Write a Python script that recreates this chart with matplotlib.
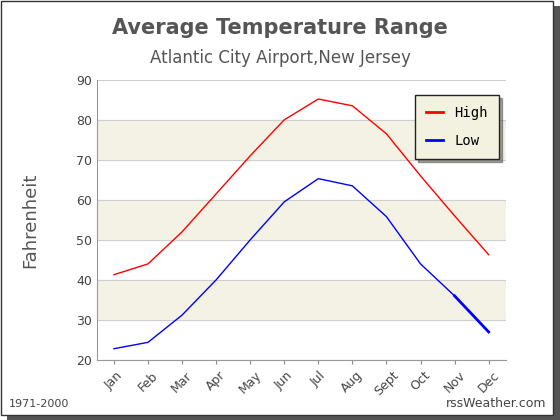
import matplotlib
matplotlib.use("Agg")
import matplotlib.pyplot as plt
from matplotlib.patches import Rectangle
from matplotlib.lines import Line2D

months = ["Jan","Feb","Mar","Apr","May","Jun","Jul","Aug","Sept","Oct","Nov","Dec"]
high = [41.3, 44.0, 52.0, 61.5, 71.0, 80.0, 85.2, 83.5, 76.5, 66.0, 56.0, 46.3]
low = [22.8, 24.4, 31.2, 40.0, 50.0, 59.5, 65.3, 63.5, 55.8, 44.0, 36.0, 27.0]

fig = plt.figure(figsize=(5.6, 4.2), dpi=100)
fig.patch.set_facecolor("white")
fig.patches.append(Rectangle((0.012, 0.0), 0.988, 0.985, transform=fig.transFigure, facecolor="#555555", edgecolor="none", zorder=-2))
fig.patches.append(Rectangle((0.002, 0.012), 0.985, 0.985, transform=fig.transFigure, facecolor="white", edgecolor="#333333", lw=1, zorder=-1))

ax = fig.add_axes([0.173, 0.143, 0.73, 0.667])
ax.set_xlim(-0.5, 11.5)
ax.set_ylim(20, 90)
for lo in (30, 50, 70):
    ax.axhspan(lo, lo + 10, color="#f3f2e4", zorder=0)
for y in range(20, 91, 10):
    ax.axhline(y, color="#cfcfcf", lw=0.8, zorder=1)
x = range(len(months))
ax.plot(x, high, color="red", lw=1, zorder=3)
ax.plot(x, low, color="blue", lw=1, zorder=3)
ax.plot(x[10:], low[10:], color="blue", lw=2, zorder=3)
ax.set_xticks(list(x))
ax.set_xticklabels(months, rotation=45, fontsize=9, color="#444444")
ax.set_yticks(range(20, 91, 10))
ax.tick_params(axis="y", labelsize=9, colors="#444444", length=0)
ax.tick_params(axis="x", length=3, color="#888888")
for s in ax.spines.values():
    s.set_color("#999999")
ax.spines["top"].set_visible(False)
ax.spines["right"].set_visible(False)
ax.set_ylabel("Fahrenheit", fontsize=13, color="#555555")
ax.yaxis.set_label_coords(-0.14, 0.5)
handles = [Line2D([], [], color="red", lw=2), Line2D([], [], color="blue", lw=2)]
ax.legend(handles, ["High", "Low"], loc="upper right", bbox_to_anchor=(1.0, 0.97), facecolor="#f3f2e0",
          edgecolor="#222222", fancybox=False, framealpha=1, borderpad=0.8, labelspacing=1.0,
          handlelength=1.2, shadow=True, prop={"family": "DejaVu Sans Mono", "size": 10})
fig.text(0.5, 0.92, "Average Temperature Range", ha="center", fontsize=15, fontweight="bold", color="#555555")
fig.text(0.5, 0.85, "Atlantic City Airport,New Jersey", ha="center", fontsize=12, color="#555555")
fig.text(0.015, 0.03, "1971-2000", fontsize=8, color="#444444")
fig.text(0.975, 0.03, "rssWeather.com", fontsize=9, color="#444444", ha="right")
fig.savefig("out.png", dpi=100)
